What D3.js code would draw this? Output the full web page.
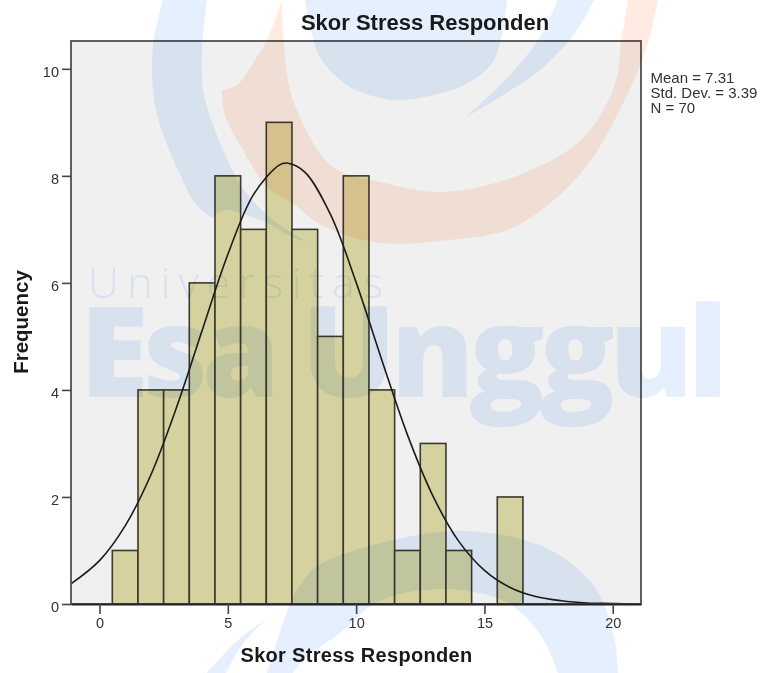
<!DOCTYPE html>
<html>
<head>
<meta charset="utf-8">
<script src="https://cdn.jsdelivr.net/npm/d3@7"></script>
<style>
  html, body { margin: 0; padding: 0; background: #fff; }
  svg { display: block; filter: blur(0.35px); }
  text { font-family: "Liberation Sans", Arial, sans-serif; }
</style>
</head>
<body>
<div id="chart"></div>
<script>
const width = 762, height = 673;

// Histogram, one bin per score
const scores = [1, 2, 3, 4, 5, 6, 7, 8, 9, 10, 11, 12, 13, 14, 16];
const counts = [1, 4, 4, 6, 8, 7, 9, 7, 5, 8, 4, 1, 3, 1, 2];

// Normal curve
const curveX = [-1.1, 0, 1, 2, 3, 4, 5, 6, 7, 7.3, 8, 9, 10, 11, 12, 13, 14, 15, 16, 17, 18, 19, 20, 21.1];
const curveY = [0.38, 0.81, 1.46, 2.41, 3.67, 5.11, 6.53, 7.65, 8.2, 8.24, 8.07, 7.28, 6.01, 4.56, 3.16, 2.01, 1.17, 0.63, 0.31, 0.14, 0.06, 0.02, 0.01, 0];

const xTicks = [0, 5, 10, 15, 20];
const yTicks = [0, 2, 4, 6, 8, 10];
const statLines = ["Mean = 7.31", "Std. Dev. = 3.39", "N = 70"];

const plot = { left: 71, right: 641, top: 41, bottom: 604 };

const svg = d3.select("#chart")
    .append("svg")
    .attr("width", width)
    .attr("height", height)
    .attr("viewBox", [0, 0, width, height]);

const x = d3.scaleLinear().domain([-1.11, 21.1]).range([plot.left, plot.right]);
const y = d3.scaleLinear().domain([0, 10.52]).range([plot.bottom, plot.top]);

// Panel
svg.append("rect")
    .attr("x", plot.left).attr("y", plot.top)
    .attr("width", plot.right - plot.left).attr("height", plot.bottom - plot.top)
    .attr("fill", "#f0f0f0");

// Bars
svg.append("g").selectAll("rect")
    .data(scores)
    .join("rect")
    .attr("x", d => x(d - 0.5))
    .attr("y", (d, i) => y(counts[i]))
    .attr("width", d => x(d + 0.5) - x(d - 0.5))
    .attr("height", (d, i) => y(0) - y(counts[i]))
    .attr("fill", "#d6d29f")
    .attr("stroke", "#3a3a30")
    .attr("stroke-width", 1.6);

// Normal curve
const line = d3.line()
    .x(d => x(d))
    .y((d, i) => y(curveY[i]))
    .curve(d3.curveCatmullRom);

svg.append("path")
    .attr("d", line(curveX))
    .attr("fill", "none")
    .attr("stroke", "#1c1c1c")
    .attr("stroke-width", 1.6);

// Frame
svg.append("rect")
    .attr("x", plot.left).attr("y", plot.top)
    .attr("width", plot.right - plot.left).attr("height", plot.bottom - plot.top)
    .attr("fill", "none")
    .attr("stroke", "#505050")
    .attr("stroke-width", 1.8);

// Axes
const xAxis = svg.append("g")
    .attr("transform", `translate(0,${plot.bottom})`)
    .call(d3.axisBottom(x).tickValues(xTicks).tickSize(10).tickPadding(4).tickSizeOuter(0));
xAxis.select(".domain").attr("stroke", "#222").attr("stroke-width", 1.8);

const yAxis = svg.append("g")
    .attr("transform", `translate(${plot.left},0)`)
    .call(d3.axisLeft(y).tickValues(yTicks).tickSize(9).tickPadding(3).tickSizeOuter(0));
yAxis.select(".domain").remove();
yAxis.selectAll(".tick text").attr("dy", "0.5em");

[xAxis, yAxis].forEach(a => {
    a.selectAll(".tick line").attr("stroke", "#444").attr("stroke-width", 1.6);
    a.selectAll(".tick text")
        .attr("fill", "#333")
        .style("font-family", '"Liberation Sans", Arial, sans-serif')
        .style("font-size", "14.5px");
});

// Titles
svg.append("text")
    .attr("x", 425).attr("y", 30)
    .attr("text-anchor", "middle")
    .attr("font-weight", "bold").attr("font-size", 22)
    .attr("fill", "#1a1a1a")
    .text("Skor Stress Responden");

svg.append("text")
    .attr("x", 356.5).attr("y", 662)
    .attr("text-anchor", "middle")
    .attr("font-weight", "bold").attr("font-size", 20)
    .attr("letter-spacing", 0.3)
    .attr("fill", "#1a1a1a")
    .text("Skor Stress Responden");

svg.append("text")
    .attr("transform", "translate(27.5,322) rotate(-90)")
    .attr("text-anchor", "middle")
    .attr("font-weight", "bold").attr("font-size", 20.5)
    .attr("fill", "#1a1a1a")
    .text("Frequency");

// Stats box
svg.append("g").selectAll("text")
    .data(statLines)
    .join("text")
    .attr("x", 650.5)
    .attr("y", (d, i) => 83 + i * 15)
    .attr("font-size", 15)
    .attr("fill", "#333")
    .text(d => d);

// Watermark, laid over everything as in the source image
const edge = d3.line().curve(d3.curveCatmullRom);
const outline = edges => edges.map((e, i) => edge(e).replace(/^M/, i ? "L" : "M")).join("") + "Z";
const mark = svg.append("g").style("mix-blend-mode", "multiply");
const blue = "#e6effd", orange = "#ffebe1";

const shapes = [
    // left blue crescent with its thin tail
    { fill: blue, edges: [
        [[163, 0], [153, 45], [153, 90], [160, 125], [178, 170], [195, 203], [212, 218]],
        [[212, 218], [223, 210], [240, 213], [267, 223], [292, 237], [308, 242]],
        [[308, 242], [292, 233], [267, 215], [242, 187], [223, 150], [208, 110], [203, 90], [202, 50], [207, 0]]
    ] },
    // orange crescent
    { fill: orange, edges: [
        [[282, 0], [267, 40], [253, 63], [237, 85], [222, 90]],
        [[222, 90], [225, 115], [243, 150], [267, 187], [292, 203], [325, 227], [381, 243], [448, 240], [514, 227], [581, 173], [628, 93], [648, 43], [658, 0]],
        [[628, 0], [621, 43], [614, 87], [581, 140], [514, 177], [441, 192], [381, 182], [333, 167], [293, 100], [283, 33], [282, 0]]
    ] },
    // top blue blob
    { fill: blue, edges: [
        [[305, 0], [320, 57], [350, 87], [381, 98], [404, 100], [464, 85], [494, 60], [507, 0]]
    ] },
    // right blue swoosh
    { fill: blue, edges: [
        [[558, 0], [538, 40], [510, 75], [466, 117]],
        [[466, 117], [540, 70], [577, 30], [594, 0]]
    ] },
    // bottom blue crescent
    { fill: blue, edges: [
        [[267, 673], [290, 604], [300, 585], [317, 566], [381, 543], [468, 531], [548, 549], [594, 586], [614, 636], [618, 673]],
        [[558, 673], [541, 636], [508, 603], [448, 589], [381, 600], [340, 633], [303, 660], [293, 673]]
    ] },
    // bottom left swoosh
    { fill: blue, edges: [
        [[207, 673], [235, 643], [267, 618]],
        [[267, 618], [242, 645], [226, 673]]
    ] }
];

mark.selectAll("path")
    .data(shapes)
    .join("path")
    .attr("d", d => outline(d.edges))
    .attr("fill", d => d.fill);

mark.append("text")
    .attr("x", 88).attr("y", 298)
    .attr("font-size", 43)
    .attr("letter-spacing", 8.2)
    .attr("fill", blue)
    .style("font-family", '"Open Sans", sans-serif')
    .style("font-weight", 300)
    .text("Universitas");

mark.append("text")
    .attr("x", 80).attr("y", 397)
    .attr("font-size", 125)
    .attr("letter-spacing", -5.5)
    .attr("fill", blue)
    .style("font-family", '"Open Sans", sans-serif')
    .style("font-weight", 800)
    .text("Esa Unggul");
</script>
</body>
</html>
